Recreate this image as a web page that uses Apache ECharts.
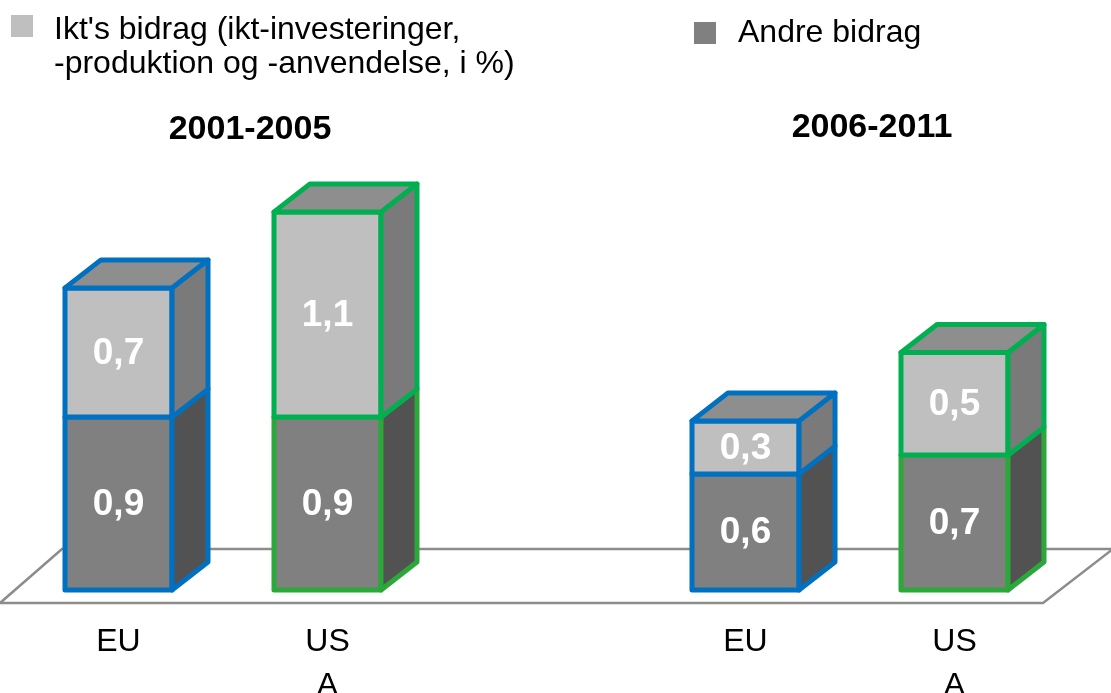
<!DOCTYPE html>
<html>
<head>
<meta charset="utf-8">
<title>Ikt's bidrag</title>
<script src="https://cdn.jsdelivr.net/npm/echarts@6/dist/echarts.min.js"></script>
<style>
  html, body { margin: 0; padding: 0; background: #fff; }
  #chart1 { width: 1111px; height: 693px; }
</style>
</head>
<body>
<div id="chart1"></div>
<script>
// data
const kategorier = ["EU", "USA", "", "EU", "USA"];
const iktBidrag = [0.68, 1.08, null, 0.28, 0.54];
const andreBidrag = [0.91, 0.91, null, 0.61, 0.71];
const perioder = ["2001-2005", "2006-2011"];

const navnIkt = "Ikt's bidrag (ikt-investeringer,\n-produktion og -anvendelse, i %)";
const navnAndre = "Andre bidrag";

const FONT = "'Liberation Sans', Arial, sans-serif";
const DYBDE_X = 36;
const DYBDE_Y = -28;

const kantFarve = (kat, ovre) => {
  if (kat === "EU") return "#0070C0";
  return ovre ? "#00B050" : "#2CA83A";
};

// 3d kasse for et segment
const kasse = (frontFarve, sideFarve, ovre) => (params, api) => {
  const i = api.value(0);
  const v = api.value(1);
  const base = api.value(2);
  const bund = api.coord([i, base]);
  const top = api.coord([i, base + v]);
  const w = api.size([1, 0])[0] * 0.512;
  const x0 = bund[0] - w / 2;
  const x1 = bund[0] + w / 2;
  const y0 = bund[1];
  const y1 = top[1];
  const kant = kantFarve(kategorier[i], ovre);
  const streg = { stroke: kant, lineWidth: 5, lineJoin: "round" };

  const born = [
    {
      type: "polygon",
      shape: { points: [[x0, y0], [x1, y0], [x1, y1], [x0, y1]] },
      style: Object.assign({ fill: frontFarve }, streg),
    },
    {
      type: "polygon",
      shape: {
        points: [[x1, y0], [x1 + DYBDE_X, y0 + DYBDE_Y], [x1 + DYBDE_X, y1 + DYBDE_Y], [x1, y1]],
      },
      style: Object.assign({ fill: sideFarve }, streg),
    },
  ];
  if (ovre) {
    born.push({
      type: "polygon",
      shape: {
        points: [[x0, y1], [x1, y1], [x1 + DYBDE_X, y1 + DYBDE_Y], [x0 + DYBDE_X, y1 + DYBDE_Y]],
      },
      style: Object.assign({ fill: "#8E8E8E" }, streg),
    });
  }
  born.push({
    type: "text",
    style: {
      text: v.toFixed(1).replace(".", ","),
      x: (x0 + x1) / 2,
      y: (y0 + y1) / 2 + 1,
      fill: "#fff",
      font: "bold 37px " + FONT,
      align: "center",
      verticalAlign: "middle",
    },
  });
  return { type: "group", children: born };
};

const tilData = (vaerdier, baser) => {
  let ud = [];
  for (let i = 0; i < vaerdier.length; i++) {
    if (vaerdier[i] == null) continue;
    ud.push([i, vaerdier[i], baser ? baser[i] : 0]);
  }
  return ud;
};

const tekst = { fontFamily: FONT, color: "#000" };

const getOption = () => {
  return {
    animation: false,
    title: [
      {
        text: perioder[0], left: 250, top: 110, padding: 0,
        textAlign: "center", textVerticalAlign: "top",
        textStyle: Object.assign({ fontSize: 34, fontWeight: "bold", lineHeight: 40 }, tekst),
      },
      {
        text: perioder[1], left: 872, top: 108, padding: 0,
        textAlign: "center", textVerticalAlign: "top",
        textStyle: Object.assign({ fontSize: 34, fontWeight: "bold", lineHeight: 40 }, tekst),
      },
    ],
    legend: [
      {
        // tom første linje, så første tekstlinje står ud for ikonet
        left: 11, top: -13, padding: 0, icon: "rect",
        itemWidth: 22, itemHeight: 22, selectedMode: false,
        data: [navnIkt],
        formatter: (navn) =>
          "{b| }\n" + navn.split("\n").map((l) => "{a|" + l + "}").join("\n"),
        textStyle: Object.assign({
          fontSize: 32, padding: [0, 0, 0, 16],
          rich: {
            a: Object.assign({ fontSize: 32, lineHeight: 34 }, tekst),
            b: { fontSize: 10, lineHeight: 42 },
          },
        }, tekst),
      },
      {
        left: 694, top: 17, padding: 0, icon: "rect",
        itemWidth: 22, itemHeight: 22, selectedMode: false,
        data: [navnAndre],
        textStyle: Object.assign({ fontSize: 32, padding: [0, 0, 0, 17] }, tekst),
      },
    ],
    graphic: [
      {
        type: "polygon", z: 0, silent: true,
        shape: { points: [[0, 603], [62, 549], [1113, 549], [1043, 603]] },
        style: { fill: "#fff", stroke: "#8C8C8C", lineWidth: 2.5 },
      },
    ],
    grid: { left: 14, right: 52, top: 115, bottom: 103, outerBoundsMode: "none", containLabel: false },
    xAxis: {
      type: "category",
      data: kategorier,
      axisLine: { show: false },
      axisTick: { show: false },
      axisLabel: Object.assign({
        interval: 0, fontSize: 32, lineHeight: 44, margin: 30,
        width: 52, overflow: "breakAll",
      }, tekst),
    },
    yAxis: {
      type: "value", min: 0, max: 2.5,
      axisLine: { show: false }, axisTick: { show: false },
      axisLabel: { show: false }, splitLine: { show: false },
    },
    series: [
      {
        name: navnAndre,
        type: "custom",
        itemStyle: { color: "#808080" },
        encode: { x: 0, y: 1 },
        renderItem: kasse("#808080", "#525252", false),
        data: tilData(andreBidrag, null),
      },
      {
        name: navnIkt,
        type: "custom",
        itemStyle: { color: "#BFBFBF" },
        encode: { x: 0, y: 1 },
        renderItem: kasse("#BFBFBF", "#7A7A7A", true),
        data: tilData(iktBidrag, andreBidrag),
      },
    ],
  };
};

const initCharts = () => {
  const chart1 = echarts.init(document.getElementById("chart1"));
  chart1.setOption(getOption());
};

window.addEventListener("load", () => {
  initCharts();
});
</script>
</body>
</html>
